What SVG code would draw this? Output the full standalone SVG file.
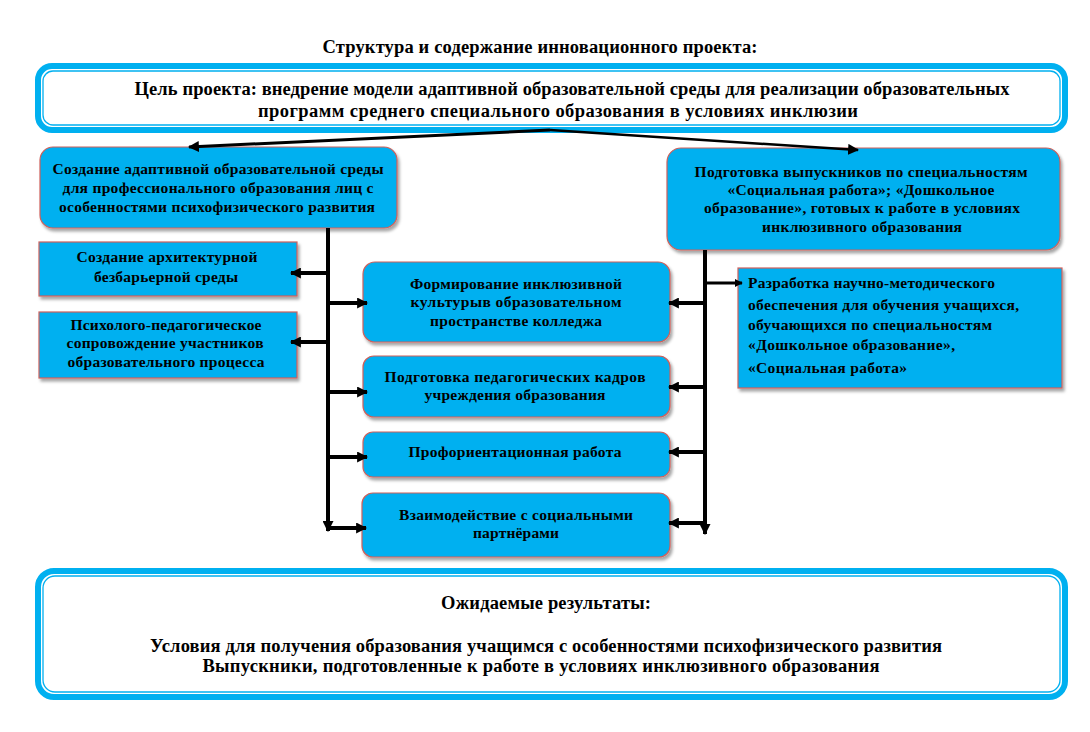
<svg xmlns="http://www.w3.org/2000/svg" width="1090" height="732" viewBox="0 0 1090 732" font-family="'Liberation Serif', 'Times New Roman', serif" font-weight="bold">
<defs>
<filter id="sh" x="-10%" y="-10%" width="120%" height="130%">
<feDropShadow dx="2" dy="3" stdDeviation="1.5" flood-color="#000" flood-opacity="0.35"/>
</filter>
<marker id="ah" viewBox="0 0 10 10" refX="9" refY="5" markerWidth="11" markerHeight="11" markerUnits="userSpaceOnUse" orient="auto">
<path d="M0,0 L10,5 L0,10 Z" fill="#000"/>
</marker>
<marker id="ahs" viewBox="0 0 10 10" refX="9" refY="5" markerWidth="8" markerHeight="8" markerUnits="userSpaceOnUse" orient="auto">
<path d="M0,0 L10,5 L0,10 Z" fill="#000"/>
</marker>
</defs>
<style>
.box{fill:#00B0F0;stroke:#D0605A;stroke-width:1.2;filter:url(#sh)}
.frame{fill:#fff;stroke:#00B0F0;stroke-width:6}
.inner{fill:none;stroke:#00B0F0;stroke-width:1.3}
.c{fill:none;stroke:#000;stroke-width:4}
</style>

<g font-size="18.5">
<text x="540" y="53" text-anchor="middle" textLength="435">Структура и содержание инновационного проекта:</text>
</g>

<g id="goal">
<rect class="frame" x="38" y="66" width="1027" height="64" rx="14"/>
<rect class="inner" x="43" y="71" width="1017" height="54" rx="10"/>
<g font-size="18.5">
<text x="572" y="95" text-anchor="middle" textLength="875">Цель проекта: внедрение модели адаптивной образовательной среды для реализации образовательных</text>
<text x="558" y="117" text-anchor="middle" textLength="600">программ среднего специального образования в условиях инклюзии</text>
</g>
</g>

<g id="left-main" font-size="15.5">
<rect class="box" x="40" y="147" width="357" height="81" rx="13"/>
<text x="218" y="174" text-anchor="middle" textLength="331">Создание адаптивной образовательной среды</text>
<text x="218" y="193" text-anchor="middle" textLength="311">для профессионального образования лиц с</text>
<text x="217" y="212" text-anchor="middle" textLength="316">особенностями психофизического  развития</text>
</g>

<g id="right-main" font-size="15.5">
<rect class="box" x="667" y="148" width="393" height="102" rx="14"/>
<text x="861" y="177" text-anchor="middle" textLength="333">Подготовка выпускников по специальностям</text>
<text x="861" y="195" text-anchor="middle" textLength="267">«Социальная работа»; «Дошкольное</text>
<text x="862" y="213" text-anchor="middle" textLength="316">образование», готовых к работе в условиях</text>
<text x="862" y="232" text-anchor="middle" textLength="200">инклюзивного  образования</text>
</g>

<g id="arch" font-size="15.5">
<rect class="box" x="39" y="242" width="258" height="54"/>
<text x="167" y="262" text-anchor="middle" textLength="181">Создание архитектурной</text>
<text x="166" y="282" text-anchor="middle" textLength="144">безбарьерной среды</text>
</g>

<g id="psych" font-size="15.5">
<rect class="box" x="39" y="312" width="258" height="66"/>
<text x="166" y="330" text-anchor="middle" textLength="191">Психолого-педагогическое</text>
<text x="165" y="348" text-anchor="middle" textLength="197">сопровождение участников</text>
<text x="166" y="367" text-anchor="middle" textLength="197">образовательного процесса</text>
</g>

<g id="culture" font-size="15.5">
<rect class="box" x="363" y="262" width="307" height="80" rx="12"/>
<text x="516" y="289" text-anchor="middle" textLength="212">Формирование инклюзивной</text>
<text x="516" y="307" text-anchor="middle" textLength="211">культурыв образовательном</text>
<text x="516" y="326" text-anchor="middle" textLength="172">пространстве колледжа</text>
</g>

<g id="staff" font-size="15.5">
<rect class="box" x="363" y="356" width="307" height="61" rx="11"/>
<text x="515" y="382" text-anchor="middle" textLength="261">Подготовка  педагогических кадров</text>
<text x="515" y="400" text-anchor="middle" textLength="181">учреждения образования</text>
</g>

<g id="career" font-size="15.5">
<rect class="box" x="363" y="432" width="307" height="45" rx="10"/>
<text x="515" y="457" text-anchor="middle" textLength="213">Профориентационная работа</text>
</g>

<g id="partners" font-size="15.5">
<rect class="box" x="362" y="493" width="308" height="64" rx="11"/>
<text x="516" y="520" text-anchor="middle" textLength="234">Взаимодействие с социальными</text>
<text x="516" y="538" text-anchor="middle" textLength="86">партнёрами</text>
</g>

<g id="method" font-size="15.5">
<rect class="box" x="738" y="268" width="324" height="120"/>
<text x="748" y="288" textLength="247">Разработка научно-методического</text>
<text x="748" y="310" textLength="271">обеспечения для обучения учащихся,</text>
<text x="748" y="330" textLength="244">обучающихся по специальностям</text>
<text x="748" y="350" textLength="207">«Дошкольное образование»,</text>
<text x="748" y="373" textLength="159">«Социальная работа»</text>
</g>

<g id="results">
<rect class="frame" x="38" y="571" width="1027" height="126" rx="16"/>
<rect class="inner" x="43" y="576" width="1017" height="116" rx="12"/>
<g font-size="18.5">
<text x="546" y="609" text-anchor="middle" textLength="210">Ожидаемые результаты:</text>
<text x="546" y="652" text-anchor="middle" textLength="792">Условия для получения образования учащимся с особенностями психофизического развития</text>
<text x="541" y="672" text-anchor="middle" textLength="677">Выпускники, подготовленные к работе в условиях инклюзивного образования</text>
</g>
</g>

<g id="connectors">
<path d="M550,130 L189,147" fill="none" stroke="#000" stroke-width="3" marker-end="url(#ah)"/>
<path d="M550,130 L858,150" fill="none" stroke="#000" stroke-width="2.5" marker-end="url(#ah)"/>
<path class="c" d="M328,228 L328,531" marker-end="url(#ah)"/>
<path class="c" d="M328,273 L291,273" marker-end="url(#ah)"/>
<path class="c" d="M328,342 L291,342" marker-end="url(#ah)"/>
<path class="c" d="M328,303 L367,303" marker-end="url(#ah)"/>
<path class="c" d="M328,392 L367,392" marker-end="url(#ah)"/>
<path class="c" d="M328,457 L367,457" marker-end="url(#ah)"/>
<path class="c" d="M328,528 L366,528" marker-end="url(#ah)"/>
<path class="c" d="M705,250 L705,534" marker-end="url(#ah)"/>
<path class="c" d="M705,303 L669,303" marker-end="url(#ah)"/>
<path class="c" d="M705,387 L669,387" marker-end="url(#ah)"/>
<path class="c" d="M705,452 L669,452" marker-end="url(#ah)"/>
<path class="c" d="M705,523 L669,523" marker-end="url(#ah)"/>
<path d="M705,283 L742,283" fill="none" stroke="#000" stroke-width="3" marker-end="url(#ahs)"/>
</g>
</svg>
